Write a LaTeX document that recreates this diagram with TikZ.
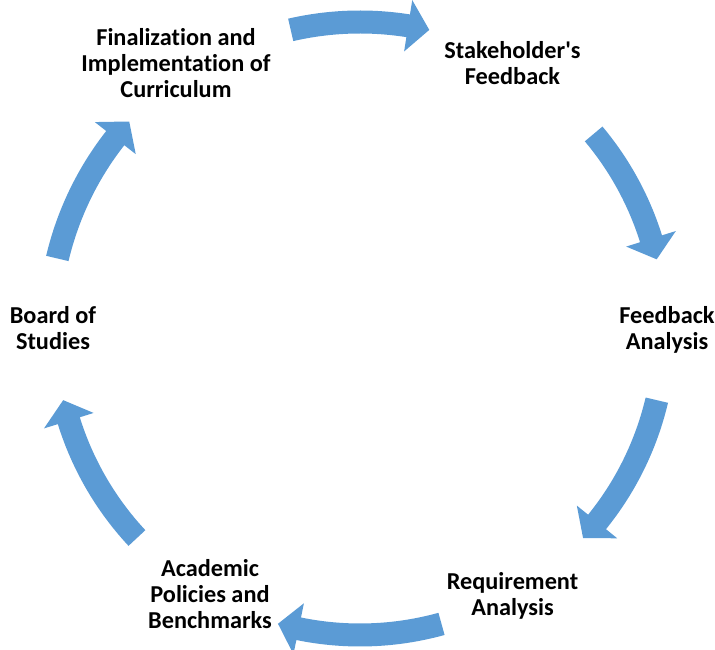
\documentclass[tikz,border=0pt]{standalone}
\usepackage{fontspec}
\setmainfont{Carlito}[Ligatures={NoCommon}]
\usetikzlibrary{calc}
\definecolor{cycblue}{RGB}{91,155,213}
\tikzset{stage/.style={inner sep=0pt, align=center, font=\fontsize{24.3}{25.8}\selectfont\bfseries},
         cyc/.style={fill=cycblue}}

\begin{document}
\begin{tikzpicture}[x=1pt, y=1pt]
\useasboundingbox (-360,-320) rectangle (355,330);
\node (final) at (-184,267) [stage] {Finalization and\\Implementation of\\Curriculum};
\node (stake) at (152.5,267) [stage] {Stakeholder\textquotesingle s\\Feedback};
\node (fback) at (307,0) [stage] {Feedback\\Analysis};
\node (req) at (152.5,-266) [stage] {Requirement\\Analysis};
\node (acad) at (-150,-264) [stage] {Academic\\Policies and\\Benchmarks};
\node (bos) at (-307,2) [stage] {Board of\\Studies};
\foreach \a/\b/\r in {103/77/308, 40/13.4/305, -13.3/-43/305, -74.5/-105.6/305, -137/-166.7/305, 166.7/137.9/311}
  \fill[cyc] (\a:\r+11.5) arc[start angle=\a, end angle=\b+4, radius=\r+11.5]
    -- ({\b+4}:\r+26) -- (\b:\r) -- ({\b+4}:\r-26) -- ({\b+4}:\r-11.5)
    arc[start angle=\b+4, end angle=\a, radius=\r-11.5] -- cycle;
\end{tikzpicture}
\end{document}
